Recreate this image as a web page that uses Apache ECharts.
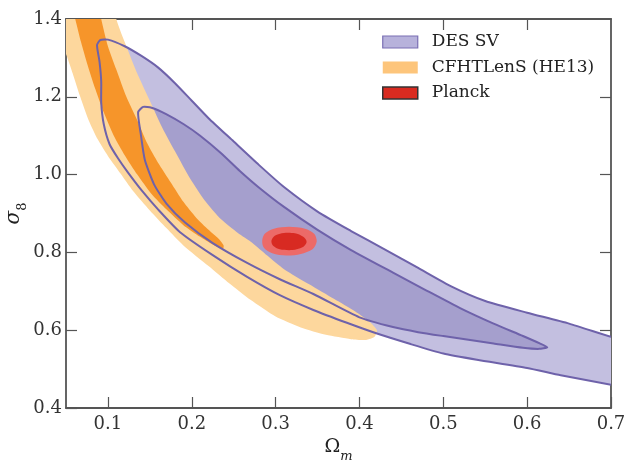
<!DOCTYPE html>
<html>
<head>
<meta charset="utf-8">
<script src="https://cdn.jsdelivr.net/npm/echarts@6/dist/echarts.min.js"></script>
<style>
  html, body { margin: 0; padding: 0; background: #fff; }
  #chart { width: 630px; height: 461px; }
</style>
</head>
<body>
<div id="chart"></div>
<script>
// tick values
const xTicks = [0.1, 0.2, 0.3, 0.4, 0.5, 0.6, 0.7];
const yTicks = [0.4, 0.6, 0.8, 1.0, 1.2, 1.4];

// contour outlines, [Omega_m, sigma_8]
const desOuter = [
  [0.087, 1.333], [0.091, 1.346], [0.100, 1.347], [0.120, 1.330], [0.140, 1.305],
  [0.160, 1.275], [0.180, 1.235], [0.200, 1.190], [0.220, 1.145], [0.250, 1.085],
  [0.280, 1.025], [0.310, 0.968], [0.350, 0.905], [0.390, 0.855], [0.430, 0.808],
  [0.470, 0.760], [0.510, 0.712], [0.550, 0.675], [0.600, 0.645], [0.650, 0.617],
  [0.700, 0.583], [0.720, 0.572], [0.720, 0.452], [0.700, 0.460], [0.640, 0.484],
  [0.600, 0.503], [0.540, 0.524], [0.500, 0.540], [0.460, 0.565], [0.420, 0.592],
  [0.385, 0.619], [0.345, 0.652], [0.305, 0.690], [0.266, 0.737], [0.225, 0.793],
  [0.186, 0.852], [0.160, 0.910], [0.140, 0.960], [0.124, 1.005], [0.112, 1.042],
  [0.102, 1.078], [0.095, 1.130], [0.092, 1.185], [0.092, 1.240], [0.090, 1.290]
];
const desInner = [
  [0.136, 1.160], [0.142, 1.174], [0.152, 1.172], [0.170, 1.155], [0.190, 1.130],
  [0.210, 1.100], [0.235, 1.055], [0.257, 1.010], [0.280, 0.967], [0.310, 0.917],
  [0.350, 0.858], [0.390, 0.806], [0.440, 0.748], [0.480, 0.702], [0.520, 0.657],
  [0.560, 0.617], [0.595, 0.585], [0.615, 0.566], [0.624, 0.556], [0.614, 0.552],
  [0.595, 0.555], [0.560, 0.566], [0.500, 0.585], [0.470, 0.595], [0.440, 0.608],
  [0.400, 0.633], [0.345, 0.693], [0.305, 0.731], [0.266, 0.773], [0.225, 0.824],
  [0.192, 0.877], [0.170, 0.925], [0.155, 0.975], [0.144, 1.038], [0.139, 1.107]
];
const cfhtOuter = [
  [0.112, 1.420], [0.110, 1.400], [0.122, 1.330], [0.135, 1.260], [0.150, 1.190],
  [0.165, 1.120], [0.180, 1.060], [0.198, 0.990], [0.215, 0.935], [0.235, 0.885],
  [0.255, 0.850], [0.272, 0.825], [0.290, 0.792], [0.310, 0.757], [0.340, 0.718],
  [0.370, 0.680], [0.395, 0.648], [0.412, 0.622], [0.421, 0.600], [0.418, 0.583],
  [0.408, 0.575], [0.390, 0.577], [0.360, 0.588], [0.330, 0.607], [0.300, 0.635],
  [0.270, 0.678], [0.245, 0.720], [0.220, 0.765], [0.190, 0.818], [0.170, 0.862],
  [0.150, 0.908], [0.130, 0.958], [0.115, 1.003], [0.100, 1.048], [0.088, 1.090],
  [0.077, 1.140], [0.067, 1.200], [0.058, 1.260], [0.050, 1.310], [0.040, 1.360],
  [0.040, 1.420]
];
const cfhtInner = [
  [0.058, 1.420], [0.061, 1.400], [0.068, 1.340], [0.076, 1.280], [0.085, 1.220],
  [0.095, 1.160], [0.107, 1.100], [0.120, 1.050], [0.135, 1.000], [0.152, 0.950],
  [0.170, 0.910], [0.190, 0.870], [0.210, 0.840], [0.225, 0.820], [0.237, 0.808],
  [0.238, 0.818], [0.232, 0.835], [0.220, 0.858], [0.205, 0.890], [0.190, 0.930],
  [0.175, 0.980], [0.160, 1.030], [0.147, 1.080], [0.135, 1.140], [0.122, 1.200],
  [0.110, 1.270], [0.100, 1.330], [0.092, 1.400], [0.091, 1.420]
];
const planckOuter = [
  [0.284, 0.830], [0.287, 0.848], [0.298, 0.861], [0.316, 0.866], [0.335, 0.861],
  [0.346, 0.848], [0.349, 0.828], [0.344, 0.808], [0.330, 0.796], [0.313, 0.792],
  [0.296, 0.798], [0.286, 0.812]
];
const planckInner = [
  [0.295, 0.830], [0.299, 0.843], [0.310, 0.850], [0.323, 0.849], [0.333, 0.840],
  [0.337, 0.827], [0.332, 0.813], [0.320, 0.806], [0.305, 0.808], [0.297, 0.817]
];

const FONT = 'DejaVu Serif';
const purpleLine = '#6e62aa';

function region(name, points, style, smooth) {
  return {
    type: 'custom',
    name: name,
    coordinateSystem: 'cartesian2d',
    clip: true,
    silent: true,
    data: points,
    encode: { x: 0, y: 1 },
    renderItem: function (params, api) {
      if (params.dataIndex !== 0) return;
      const pts = points.map(p => api.coord(p));
      return {
        type: 'polygon',
        shape: { points: pts, smooth: smooth },
        style: style
      };
    }
  };
}

const chart = echarts.init(document.getElementById('chart'));

const axisLineStyle = { color: '#555', width: 1.8 };

chart.setOption({
  animation: false,
  grid: { left: 66, right: 19, top: 19, bottom: 53, containLabel: false, outerBoundsMode: 'none' },
  legend: {
    left: 382,
    top: 32,
    orient: 'vertical',
    padding: 0,
    itemWidth: 35,
    itemHeight: 12,
    itemGap: 5.5,
    icon: 'rect',
    textStyle: { fontFamily: FONT, fontSize: 17, color: '#222', lineHeight: 20, padding: [0, 0, 0, 9] },
    data: [
      { name: 'DES SV', itemStyle: { color: '#b7b2db', borderColor: '#7a6fb4', borderWidth: 1.2 } },
      { name: 'CFHTLenS (HE13)', itemStyle: { color: '#fdc57b', borderWidth: 0 } },
      { name: 'Planck', itemStyle: { color: '#d92b20', borderColor: '#333', borderWidth: 1.5 } }
    ]
  },
  xAxis: [{
    type: 'value',
    min: 0.05,
    max: 0.7,
    position: 'bottom',
    name: '{o|Ω}{m|m}',
    nameLocation: 'middle',
    nameGap: 27,
    nameTextStyle: {
      rich: {
        o: { fontFamily: FONT, fontSize: 19, color: '#222', padding: [0, 0, 6, 0] },
        m: { fontFamily: FONT, fontSize: 13, fontStyle: 'italic', color: '#222', verticalAlign: 'bottom' }
      }
    },
    axisLine: { lineStyle: axisLineStyle },
    axisTick: { inside: true, length: 11, customValues: xTicks, lineStyle: { color: '#555', width: 1.2 } },
    axisLabel: {
      customValues: xTicks,
      formatter: v => v.toFixed(1),
      fontFamily: FONT, fontSize: 18, color: '#333', margin: 7
    },
    splitLine: { show: false }
  }, {
    type: 'value',
    min: 0.05,
    max: 0.7,
    position: 'top',
    axisLine: { lineStyle: axisLineStyle },
    axisTick: { inside: true, length: 11, customValues: xTicks.slice(0, 6), lineStyle: { color: '#555', width: 1.2 } },
    axisLabel: { show: false },
    splitLine: { show: false }
  }],
  yAxis: [{
    type: 'value',
    min: 0.4,
    max: 1.4,
    position: 'left',
    name: '{s|σ}{b|8}',
    nameLocation: 'middle',
    nameRotate: 90,
    nameGap: 37,
    nameMoveOverlap: false,
    nameTextStyle: {
      rich: {
        s: { fontFamily: FONT, fontSize: 20, fontStyle: 'italic', color: '#222', padding: [0, 0, 5, 0] },
        b: { fontFamily: FONT, fontSize: 13, color: '#222', verticalAlign: 'bottom' }
      }
    },
    axisLine: { lineStyle: axisLineStyle },
    axisTick: { inside: true, length: 11, customValues: yTicks, lineStyle: { color: '#555', width: 1.2 } },
    axisLabel: {
      customValues: yTicks,
      formatter: v => v.toFixed(1),
      fontFamily: FONT, fontSize: 18, color: '#333', margin: 4
    },
    splitLine: { show: false }
  }, {
    type: 'value',
    min: 0.4,
    max: 1.4,
    position: 'right',
    axisLine: { lineStyle: axisLineStyle },
    axisTick: { inside: true, length: 11, customValues: yTicks.slice(1, 5), lineStyle: { color: '#555', width: 1.2 } },
    axisLabel: { show: false },
    splitLine: { show: false }
  }],
  series: [
    region('DES SV', desOuter, { fill: '#c3bfe0' }, 0.2),
    region('DES SV', desInner, { fill: '#a59fcd' }, 0.2),
    region('CFHTLenS (HE13)', cfhtOuter, { fill: '#fdd79d' }, 0.2),
    region('CFHTLenS (HE13)', cfhtInner, { fill: '#f6952a' }, 0.2),
    region('DES SV', desOuter, { fill: 'none', stroke: purpleLine, lineWidth: 2 }, 0.2),
    region('DES SV', desInner, { fill: 'none', stroke: purpleLine, lineWidth: 2 }, 0.2),
    region('Planck', planckOuter, { fill: '#ec6a68' }, 0.3),
    region('Planck', planckInner, { fill: '#d82a22' }, 0.3)
  ]
});
</script>
</body>
</html>
